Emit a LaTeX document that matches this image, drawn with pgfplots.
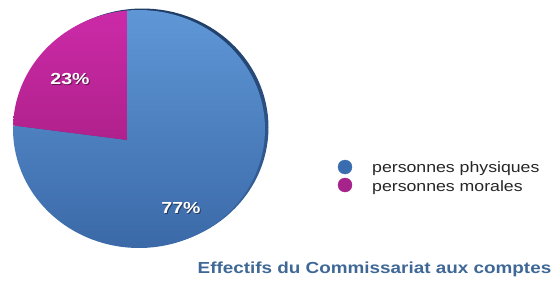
\documentclass[border=0pt]{standalone}
\usepackage{pgfplots}
\usepackage{pgfplotstable}
\pgfplotsset{compat=1.18}
\usepackage{fontspec}
\setmainfont{Liberation Sans}
\definecolor{bluetop}{HTML}{5F97D6}
\definecolor{bluebot}{HTML}{3B69A8}
\definecolor{magtop}{HTML}{CC2AA8}
\definecolor{magbot}{HTML}{B0218C}
\definecolor{edge}{HTML}{1F3D66}
\definecolor{legblue}{HTML}{3A6DAF}
\definecolor{legmag}{HTML}{A5238A}
\definecolor{titlec}{HTML}{3F6897}
\pgfplotstableread{
label value
physiques 77
morales 23
}\shares
\pgfplotstablegetelem{0}{value}\of\shares \let\vPhys\pgfplotsretval
\pgfplotstablegetelem{1}{value}\of\shares \let\vMor\pgfplotsretval
\begin{document}
\begin{tikzpicture}
\pgfmathsetmacro{\tstart}{95.5}
\pgfmathsetmacro{\tmid}{\tstart+3.6*\vMor}
\pgfmathsetmacro{\tend}{\tmid+3.6*\vPhys}
\begin{axis}[
  width=557pt, height=282pt, scale only axis,
  xmin=0, xmax=557, ymin=0, ymax=282,
  axis lines=none, clip=false,
]
% shadow edge
\addplot[draw=none, top color=edge, bottom color=bluebot, domain=0:360, samples=120]
  ({142.5+126*cos(x)}, {154.5+119*sin(x)});
% blue slice
\addplot[draw=none, top color=bluetop, bottom color=bluebot, domain=\tmid:\tend, samples=120]
  ({139+126*cos(x)}, {153+119*sin(x)}) -- (axis cs:127,142) -- cycle;
% magenta slice
\addplot[draw=none, top color=magtop, bottom color=magbot, domain=\tstart:\tmid, samples=60]
  ({139+126*cos(x)}, {153+119*sin(x)}) -- (axis cs:127,142) -- cycle;
% legend markers
\addplot[only marks, mark=*, mark size=7pt, color=legblue] coordinates {(345,115)};
\addplot[only marks, mark=*, mark size=7pt, color=legmag] coordinates {(345,97)};
% labels
\node[text=black, opacity=0.45, font=\fontsize{16}{18}\selectfont\bfseries] at (axis cs:71,202) {\scalebox{1.22}[1]{23\%}};
\node[text=white, font=\fontsize{16}{18}\selectfont\bfseries] at (axis cs:70,203) {\scalebox{1.22}[1]{23\%}};
\node[text=black, opacity=0.45, font=\fontsize{16}{18}\selectfont\bfseries] at (axis cs:182,73) {\scalebox{1.22}[1]{77\%}};
\node[text=white, font=\fontsize{16}{18}\selectfont\bfseries] at (axis cs:181,74) {\scalebox{1.22}[1]{77\%}};
\node[anchor=base west, inner sep=0pt, text=black!85, font=\fontsize{15}{18}\selectfont] at (axis cs:372,110) {\scalebox{1.18}[1]{personnes physiques}};
\node[anchor=base west, inner sep=0pt, text=black!85, font=\fontsize{15}{18}\selectfont] at (axis cs:372,91) {\scalebox{1.18}[1]{personnes morales}};
\node[anchor=base, inner sep=0pt, text=titlec, font=\fontsize{16}{19}\selectfont\bfseries] at (axis cs:374.5,9) {\scalebox{1.18}[1]{Effectifs du Commissariat aux comptes}};
\path (axis cs:0,0) (axis cs:557,282);
\end{axis}
\end{tikzpicture}
\end{document}
